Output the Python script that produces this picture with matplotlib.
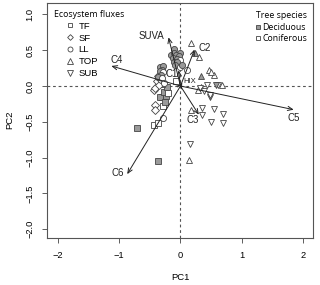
import matplotlib
matplotlib.use("Agg")
import matplotlib.pyplot as plt
from matplotlib.lines import Line2D

# ---- data ----
tf_x = [-0.71, -0.37, -0.44, -0.37, -0.28, -0.30, -0.24, -0.33, -0.27, -0.08, -0.22, -0.30, -0.26, -0.20]
tf_y = [-0.58, -1.04, -0.54, -0.52, -0.28, -0.15, -0.14, -0.15, -0.08, 0.07, -0.02, 0.03, -0.22, -0.10]
tf_sp = ["D", "D", "C", "C", "C", "D", "D", "D", "D", "C", "D", "D", "D", "C"]

sf_x = [-0.44, -0.41, -0.42, -0.41, -0.39, -0.35, -0.33, -0.36]
sf_y = [-0.06, -0.26, -0.34, -0.03, 0.07, 0.02, 0.10, 0.14]
sf_sp = ["C", "C", "C", "C", "C", "C", "C", "C"]

ll_x = [-0.11, 0.00, -0.15, -0.11, -0.075, -0.03, -0.12, -0.06, 0.00, -0.11, -0.05, -0.09, -0.015,
        -0.33, -0.29, -0.30, -0.34, -0.28, -0.32, -0.36, -0.30, 0.10, 0.03, -0.27, -0.29]
ll_y = [0.51, 0.46, 0.43, 0.46, 0.43, 0.42, 0.39, 0.38, 0.36, 0.34, 0.33, 0.29, 0.27,
        0.27, 0.28, 0.23, 0.21, 0.20, 0.16, 0.13, 0.11, 0.22, 0.30, 0.04, -0.44]
ll_sp = ["D", "D", "D", "D", "D", "D", "D", "D", "C", "D", "D", "D", "C",
         "D", "D", "D", "D", "C", "D", "D", "C", "C", "D", "C", "C"]

top_x = [0.17, 0.23, 0.30, 0.34, 0.47, 0.54, 0.68, 0.33, 0.28, 0.18, 0.14, 0.50]
top_y = [0.605, 0.46, 0.40, 0.14, 0.22, 0.15, 0.01, -0.02, -0.06, -0.335, -1.03, 0.20]
top_sp = ["C", "D", "C", "D", "C", "C", "C", "C", "C", "C", "C", "C"]

sub_x = [0.61, 0.43, 0.48, 0.36, 0.54, 0.35, 0.50, 0.70, 0.69, 0.15, 0.32, 0.38, 0.48, 0.58]
sub_y = [0.01, 0.02, -0.16, -0.30, -0.32, -0.40, -0.50, -0.39, -0.51, -0.81, -0.03, -0.07, -0.12, 0.01]
sub_sp = ["C", "C", "D", "C", "C", "C", "C", "C", "C", "C", "C", "C", "C", "D"]

vec_names = ["SUVA", "C2", "C4", "C5", "C3", "C6", "C1", "HIX"]
vec_x = [-0.195, 0.23, -1.13, 1.85, 0.30, -0.87, -0.03, 0.03]
vec_y = [0.68, 0.51, 0.28, -0.33, -0.40, -1.23, 0.22, 0.05]
lab_x = [-0.47, 0.40, -1.05, 1.85, 0.20, -1.02, -0.14, 0.15]
lab_y = [0.70, 0.53, 0.37, -0.45, -0.47, -1.22, 0.17, 0.07]

x_ticks = [-2, -1, 0, 1, 2]
y_ticks = [1.0, 0.5, 0.0, -0.5, -1.0, -1.5, -2.0]

# ---- plot ----
plt.rcParams["font.family"] = ["Liberation Sans", "DejaVu Sans"]
fig = plt.figure(figsize=(3.2, 2.85), dpi=100)
ax = fig.add_axes([0.147, 0.166, 0.832, 0.825])

edge = "#444444"
fill = {"D": "#9a9a9a", "C": "white"}

groups = [(tf_x, tf_y, tf_sp, "s", 4.0), (sf_x, sf_y, sf_sp, "D", 3.8),
          (ll_x, ll_y, ll_sp, "o", 4.4), (top_x, top_y, top_sp, "^", 5.0),
          (sub_x, sub_y, sub_sp, "v", 5.0)]

ax.axhline(0, color="#555555", lw=0.8, ls=(0, (2.5, 2.5)), zorder=1)
ax.axvline(0, color="#555555", lw=0.8, ls=(0, (2.5, 2.5)), zorder=1)

for gx, gy, gs, mk, ms in groups:
    for xi, yi, si in zip(gx, gy, gs):
        ax.plot(xi, yi, marker=mk, ms=ms, mfc=fill[si], mec=edge, mew=0.6, ls="none", zorder=3)

for name, vx, vy, lx, ly in zip(vec_names, vec_x, vec_y, lab_x, lab_y):
    ax.annotate("", xy=(vx, vy), xytext=(0, 0),
                arrowprops=dict(arrowstyle="->,head_length=0.35,head_width=0.15",
                                color="#222222", lw=0.7, shrinkA=0, shrinkB=0), zorder=4)
    fs = 5.5 if name == "HIX" else 7
    ax.text(lx, ly, name, fontsize=fs, ha="center", va="center", color="#222222", zorder=5)

ax.set_xlim(-2.18, 2.17)
ax.set_ylim(-2.117, 1.165)
ax.set_xticks(x_ticks)
ax.set_xticklabels([str(t).replace("-", "\u2212") for t in x_ticks])
ax.set_yticks(y_ticks)
ax.set_yticklabels([f"{t:.1f}".replace("-", "\u2212") for t in y_ticks], rotation=90, va="center")
ax.tick_params(labelsize=6.7, length=3.6, width=0.6, color="#444444")
ax.tick_params(axis="x", pad=6)
ax.tick_params(axis="y", pad=5.5)
ax.set_xlabel("PC1", fontsize=6.8, labelpad=9)
ax.set_ylabel("PC2", fontsize=6.8, labelpad=8)
for sp in ax.spines.values():
    sp.set_linewidth(0.8)
    sp.set_color("#555555")

flux_names = ["TF", "SF", "LL", "TOP", "SUB"]
flux_markers = ["s", "D", "o", "^", "v"]
flux_ms = [3.4, 2.9, 3.6, 4.0, 4.0]
h1 = [Line2D([], [], marker=m, ms=s, mfc="white", mec=edge, mew=0.6, ls="none")
      for m, s in zip(flux_markers, flux_ms)]
leg1 = ax.legend(h1, flux_names, title="Ecosystem fluxes", loc="upper left", frameon=False,
                 fontsize=6.8, title_fontproperties={"family": "Open Sans", "size": 6.3},
                 bbox_to_anchor=(0.0, 0.997), handletextpad=-0.75, labelspacing=0.3,
                 borderaxespad=0.3, handlelength=3.4)
leg1._legend_box.align = "left"
ax.add_artist(leg1)

species_names = ["Deciduous", "Coniferous"]
h2 = [Line2D([], [], marker="s", ms=3.4, mfc=fill[s], mec=edge, mew=0.6, ls="none") for s in ["D", "C"]]
leg2 = ax.legend(h2, species_names, title="Tree species", loc="upper right", frameon=False,
                 prop={"family": "Open Sans", "size": 6.3},
                 title_fontproperties={"family": "Open Sans", "size": 6.3},
                 bbox_to_anchor=(1.0, 0.99), handletextpad=0.1, labelspacing=0.3,
                 borderaxespad=0.3, handlelength=0.8)
leg2._legend_box.align = "right"

fig.savefig("out.png", dpi=100)
